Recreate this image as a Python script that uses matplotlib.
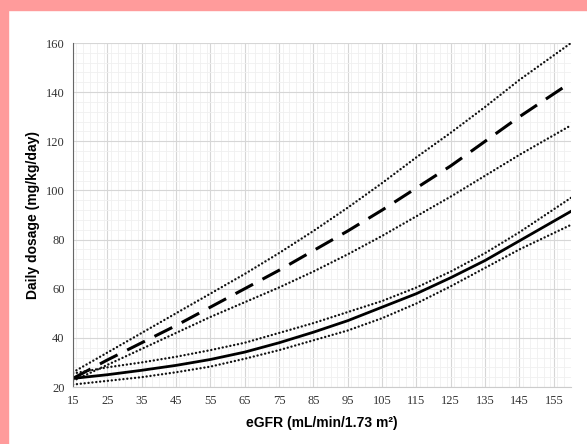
import matplotlib.pyplot as plt
from matplotlib.patches import Rectangle
from matplotlib.ticker import MultipleLocator, FixedLocator

# eGFR values (x)
egfr = [15, 25, 35, 45, 55, 65, 75, 85, 95, 105, 115, 125, 135, 145, 160]

# upper group: dashed curve with dotted band
dashed = [23.5, 31, 38, 45, 52.5, 60, 67.5, 75.5, 83.5, 92, 101, 110, 120, 130, 144]
dashed_hi = [26, 34, 42, 50, 58, 66, 74.5, 83.5, 93, 103, 113.5, 123.5, 134, 145, 160]
dashed_lo = [22.5, 29, 35.5, 42, 48.5, 54.5, 60.5, 67, 74, 81.5, 89.5, 97.5, 106, 114.5, 126.5]

# lower group: solid curve with dotted band
solid = [23.5, 25, 26.8, 28.8, 31.2, 34.2, 38, 42.3, 47, 52.5, 58, 64.5, 71.5, 79.5, 91.5]
solid_hi = [25.5, 28, 30, 32.3, 35, 38, 42, 46, 50.5, 55, 60.5, 67, 74.5, 83, 97]
solid_lo = [21, 22.5, 24, 26, 28.3, 31.5, 35, 39, 43, 48, 54, 61, 68.5, 76, 86]

xticks = [15, 25, 35, 45, 55, 65, 75, 85, 95, 105, 115, 125, 135, 145, 155]
yticks = [20, 40, 60, 80, 100, 120, 140, 160]

fig = plt.figure(figsize=(5.87, 4.44), dpi=100)
# pink frame on top and left
fig.patches.append(Rectangle((0, 1 - 10 / 444), 1, 10 / 444, transform=fig.transFigure,
                             color='#ff9b9b', zorder=0))
fig.patches.append(Rectangle((0, 0), 8 / 587, 1, transform=fig.transFigure,
                             color='#ff9b9b', zorder=0))

ax = fig.add_axes([73 / 587, 57 / 444, 498 / 587, 344 / 444])

dot = (0, (0.05, 1.6))
dot_kw = dict(color='#111111', lw=1.7, linestyle=dot, dash_capstyle='round')
ax.plot(egfr, dashed_hi, **dot_kw)
ax.plot(egfr, dashed_lo, **dot_kw)
ax.plot(egfr, dashed, color='black', lw=2.2, linestyle=(0, (6.5, 3.5)))
ax.plot(egfr, solid_hi, **dot_kw)
ax.plot(egfr, solid_lo, **dot_kw)
ax.plot(egfr, solid, color='black', lw=2.0)

ax.set_xlim(15, 160)
ax.set_ylim(20, 160)
ax.xaxis.set_major_locator(FixedLocator(xticks))
ax.yaxis.set_major_locator(FixedLocator(yticks))
ax.xaxis.set_minor_locator(MultipleLocator(2))
ax.yaxis.set_minor_locator(MultipleLocator(4))
ax.grid(True, which='major', color='#d6d6d6', lw=0.8)
ax.grid(True, which='minor', color='#f0f0f0', lw=0.6)
ax.set_axisbelow(True)

for s in ['top', 'right']:
    ax.spines[s].set_visible(False)
ax.spines['left'].set_color('#666666')
ax.spines['bottom'].set_color('#cccccc')
ax.tick_params(which='both', length=0, pad=6)
for lab in ax.get_xticklabels() + ax.get_yticklabels():
    lab.set_fontfamily('Liberation Serif')
    lab.set_fontsize(9)
    lab.set_color('#333333')

ax.set_xlabel('eGFR (mL/min/1.73 m²)', fontfamily='Liberation Sans', fontweight='bold',
              fontsize=10, labelpad=6)
ax.set_ylabel('Daily dosage (mg/kg/day)', fontfamily='Liberation Sans', fontweight='bold',
              fontsize=10, labelpad=4)

fig.savefig('out.png', dpi=100)
